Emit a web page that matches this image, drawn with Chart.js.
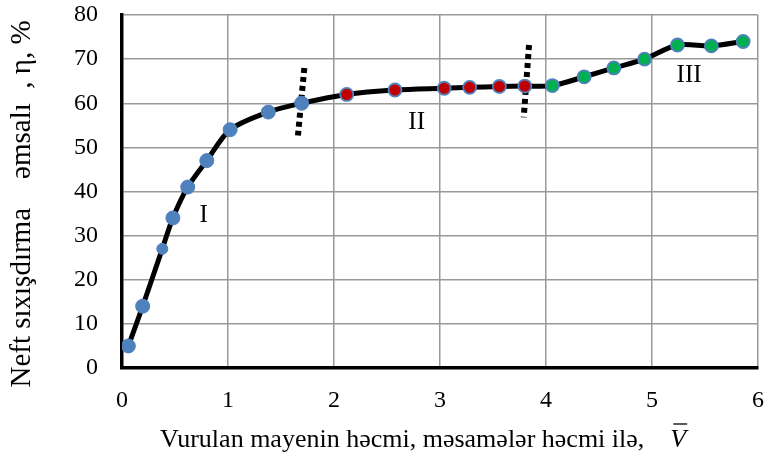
<!DOCTYPE html>
<html>
<head>
<meta charset="utf-8">
<script src="https://cdn.jsdelivr.net/npm/chart.js@4.4.1/dist/chart.umd.min.js"></script>
<style>
  html, body { margin: 0; padding: 0; background: #fff; }
  #wrap { width: 768px; height: 458px; }
</style>
</head>
<body>
<div id="wrap"><canvas id="c" width="768" height="458"></canvas></div>
<script>
// Injected volume (pore volumes) and oil displacement coefficient (%), by stage
const stageI_x = [0.06, 0.195, 0.38, 0.48, 0.62, 0.80, 1.02, 1.38, 1.695];
const stageI_y = [5, 14, 27, 34, 41, 47, 54, 58, 60];
const stageII_x = [2.12, 2.575, 3.04, 3.28, 3.56, 3.80];
const stageII_y = [62, 63, 63.4, 63.6, 63.8, 63.9];
const stageIII_x = [4.06, 4.36, 4.64, 4.93, 5.24, 5.56, 5.86];
const stageIII_y = [64, 66, 68, 70, 73.2, 73, 74];

// Boundaries between the stages
const border1_x = [1.72, 1.66];
const border1_y = [68, 52.7];
const border2_x = [3.84, 3.79];
const border2_y = [73.2, 56.8];

// Axis ticks
const xTicks = [0, 1, 2, 3, 4, 5, 6];
const yTicks = [0, 10, 20, 30, 40, 50, 60, 70, 80];

const xTitle = 'Vurulan mayenin həcmi, məsamələr həcmi ilə,';
const xSymbol = 'V';
const yTitle = 'Neft sıxışdırma    əmsalı  , η, %';
const stageNames = ['I', 'II', 'III'];

const pts = (xs, ys) => xs.map((x, i) => ({ x: x, y: ys[i] }));
const allX = stageI_x.concat(stageII_x, stageIII_x);
const allY = stageI_y.concat(stageII_y, stageIII_y);

const SERIF = '"Liberation Serif", "Times New Roman", serif';
const BLUE = '#4F81BD';

// Region labels and the axis titles
const textPlugin = {
  id: 'texts',
  afterDatasetsDraw(chart) {
    const ctx = chart.ctx;
    const xs = chart.scales.x, ys = chart.scales.y;
    const spots = [[0.77, 34.5], [2.78, 55.6], [5.35, 66.4]];
    ctx.save();
    ctx.fillStyle = '#000';
    ctx.font = '25px ' + SERIF;
    ctx.textAlign = 'center';
    ctx.textBaseline = 'middle';
    stageNames.forEach((n, i) => {
      ctx.fillText(n, xs.getPixelForValue(spots[i][0]), ys.getPixelForValue(spots[i][1]));
    });
    ctx.restore();
  },
  afterDraw(chart) {
    const ctx = chart.ctx;
    ctx.save();
    ctx.fillStyle = '#000';
    ctx.strokeStyle = '#000';
    ctx.font = '26px ' + SERIF;
    ctx.textBaseline = 'middle';
    ctx.textAlign = 'left';
    const x0 = 160, y0 = 440;
    ctx.fillText(xTitle, x0, y0);
    const w = ctx.measureText(xTitle).width;
    ctx.font = 'italic 26px ' + SERIF;
    const vx = x0 + w + 26;
    ctx.fillText(xSymbol, vx, y0);
    const vw = ctx.measureText(xSymbol).width;
    ctx.lineWidth = 1.3;
    ctx.beginPath();
    ctx.moveTo(vx + 3, y0 - 16);
    ctx.lineTo(vx + vw + 1, y0 - 16);
    ctx.stroke();
    // vertical title
    ctx.font = '29px ' + SERIF;
    ctx.translate(22, 204);
    ctx.rotate(-Math.PI / 2);
    ctx.textAlign = 'center';
    ctx.fillText(yTitle, 0, 0);
    ctx.restore();
  }
};

new Chart(document.getElementById('c'), {
  type: 'scatter',
  data: {
    datasets: [
      {
        label: 'curve', data: pts(allX, allY), showLine: true,
        borderColor: '#000', borderWidth: 5, pointRadius: 0, tension: 0.3, order: 5
      },
      {
        label: 'b1', data: pts(border1_x, border1_y), showLine: true,
        borderColor: '#000', borderWidth: 6, borderDash: [5, 4], pointRadius: 0, order: 4
      },
      {
        label: 'b2', data: pts(border2_x, border2_y), showLine: true,
        borderColor: '#000', borderWidth: 6, borderDash: [5, 4], pointRadius: 0, order: 4
      },
      {
        label: 'I', data: pts(stageI_x, stageI_y),
        pointRadius: stageI_y.map(v => v === 27 ? 5.5 : 7),
        pointBackgroundColor: BLUE, pointBorderColor: BLUE, pointBorderWidth: 1, order: 1
      },
      {
        label: 'II', data: pts(stageII_x, stageII_y), pointRadius: 6.5,
        pointBackgroundColor: '#C00000', pointBorderColor: BLUE, pointBorderWidth: 1.8, order: 1
      },
      {
        label: 'III', data: pts(stageIII_x, stageIII_y), pointRadius: 6.5,
        pointBackgroundColor: '#00B050', pointBorderColor: BLUE, pointBorderWidth: 1.8, order: 1
      }
    ]
  },
  options: {
    responsive: false,
    animation: false,
    layout: { padding: { top: 15, right: 10, left: 0, bottom: 0 } },
    plugins: { legend: { display: false }, tooltip: { enabled: false } },
    scales: {
      x: {
        type: 'linear', min: 0, max: 6,
        afterFit(s) { s.height = 90; s.paddingLeft = 0; s.paddingRight = 0; },
        afterBuildTicks(s) { s.ticks = xTicks.map(v => ({ value: v })); },
        grid: { color: '#999', lineWidth: 1.5, drawTicks: false },
        border: { color: '#000', width: 3.5 },
        ticks: { color: '#000', font: { family: SERIF, size: 24 }, padding: 18 }
      },
      y: {
        type: 'linear', min: 0, max: 80,
        afterFit(s) { s.width = 122; s.paddingTop = 0; s.paddingBottom = 0; },
        afterBuildTicks(s) { s.ticks = yTicks.map(v => ({ value: v })); },
        grid: { color: '#999', lineWidth: 1.5, drawTicks: false },
        border: { color: '#000', width: 3.5 },
        ticks: { color: '#000', font: { family: SERIF, size: 24 }, padding: 24 }
      }
    }
  },
  plugins: [textPlugin]
});
</script>
</body>
</html>
